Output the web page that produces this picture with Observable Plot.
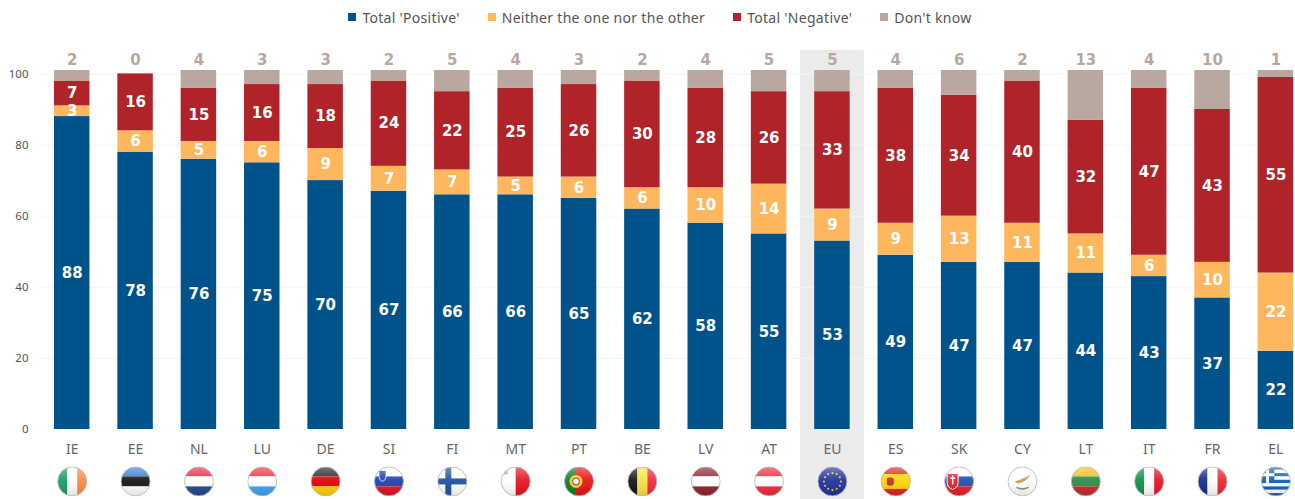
<!DOCTYPE html>
<html><head><meta charset="utf-8">
<script src="https://cdn.jsdelivr.net/npm/d3@7"></script>
<script src="https://cdn.jsdelivr.net/npm/@observablehq/plot@0.6"></script>
<style>
html,body{margin:0;padding:0;background:#fff;overflow:hidden}
#legend{height:36px;box-sizing:border-box;padding-left:25px;padding-bottom:2px;display:flex;justify-content:center;align-items:center;gap:28px;font:14px "Noto Sans",sans-serif;letter-spacing:.3px;color:#555}
#legend span.i{display:flex;align-items:center;gap:6px}
#legend i{width:8px;height:8px;display:block}
svg{display:block}
</style></head><body>
<div id="legend"></div><div id="chart"></div>
<script>
const countries=["IE","EE","NL","LU","DE","SI","FI","MT","PT","BE","LV","AT","EU","ES","SK","CY","LT","IT","FR","EL"];
const positive=[88,78,76,75,70,67,66,66,65,62,58,55,53,49,47,47,44,43,37,22];
const neither=[3,6,5,6,9,7,7,5,6,6,10,14,9,9,13,11,11,6,10,22];
const negative=[7,16,15,16,18,24,22,25,26,30,28,26,33,38,34,40,32,47,43,55];
const dontKnow=[2,0,4,3,3,2,5,4,3,2,4,5,5,4,6,2,13,4,10,1];
const seriesNames=["Total 'Positive'","Neither the one nor the other","Total 'Negative'","Don't know"];
const seriesColors=["#00538a","#ffb75d","#af2329","#b8a89f"];
const seriesValues=[positive,neither,negative,dontKnow];
const yTicks=[0,20,40,60,80,100];
const highlighted="EU";
const dontKnowTop=100.95;

const h=(a,b,c)=>`<rect width="30" height="10" fill="${a}"/><rect y="10" width="30" height="10" fill="${b}"/><rect y="20" width="30" height="10" fill="${c}"/>`;
const v=(a,b,c)=>`<rect width="10" height="30" fill="${a}"/><rect x="10" width="10" height="30" fill="${b}"/><rect x="20" width="10" height="30" fill="${c}"/>`;
const stars=Array.from({length:12},(_,i)=>{const t=i*Math.PI/6;return `<circle cx="${15+8.5*Math.sin(t)}" cy="${15-8.5*Math.cos(t)}" r="1" fill="#ffe000"/>`}).join("");
const greece=[0,1,2,3,4,5,6,7,8].map(i=>`<rect y="${i*30/9}" width="30" height="${30/9}" fill="${i%2?'#fff':'#0d5eaf'}"/>`).join("")+`<rect width="13.4" height="16.6" fill="#0d5eaf"/><rect x="5.2" width="3" height="16.6" fill="#fff"/><rect y="6.8" width="13.4" height="3" fill="#fff"/>`;
const flagArt={
IE:v("#169b62","#fff","#ff883e"),EE:h("#2f7fd0","#111","#fff"),NL:h("#e8274a","#fff","#21468b"),LU:h("#ee2e3c","#fff","#3aa3ee"),
DE:h("#222","#dd0000","#ffce00"),
SI:h("#fff","#1c3fae","#e01020")+`<path d="M5 4h7v6q0 4-3.500 5q-3.500-1-3.500-5z" fill="#1c3fae" stroke="#fff" stroke-width=".8"/>`,
FI:`<rect width="30" height="30" fill="#fff"/><rect x="8" width="6" height="30" fill="#1a4fa0"/><rect y="12" width="30" height="6" fill="#1a4fa0"/>`,
MT:`<rect width="15" height="30" fill="#fff"/><rect x="15" width="15" height="30" fill="#e81020"/><rect x="3" y="4" width="4" height="4" fill="#c9a0a0"/>`,
PT:`<rect width="12" height="30" fill="#0b7a2b"/><rect x="12" width="18" height="30" fill="#e81010"/><circle cx="12" cy="15" r="6.500" fill="#f2d21c"/><circle cx="12" cy="15" r="3.500" fill="#fff" stroke="#c01010"/>`,
BE:v("#111","#fae042","#ed2939"),LV:h("#8f2030","#fff","#8f2030"),AT:h("#ed2939","#fff","#ed2939"),
EU:`<rect width="30" height="30" fill="#1d2f9c"/>`+stars,
ES:`<rect width="30" height="30" fill="#e0201c"/><rect y="7.500" width="30" height="15" fill="#ffd400"/><rect x="6" y="11" width="7" height="8" rx="2" fill="#c03020"/>`,
SK:h("#fff","#1b4fb0","#ea1c24")+`<path d="M3 7h11v9q0 5-5.500 7q-5.500-2-5.500-7z" fill="#ea1c24" stroke="#fff"/><rect x="7.800" y="9" width="1.500" height="9" fill="#fff"/><rect x="6" y="11" width="5" height="1.500" fill="#fff"/>`,
CY:`<rect width="30" height="30" fill="#fff"/><path d="M7 15q5-1 8-3q4-1 8-4q-2 4-5 6q-5 3-8 3z" fill="#d39a50"/><path d="M9 21q6 3 12 0" fill="none" stroke="#6a9a60" stroke-width="1.500"/>`,
LT:h("#fdb913","#2a8a45","#c1272d"),IT:v("#0b9246","#fff","#e81020"),FR:v("#102a8a","#fff","#ee2030"),EL:greece};
const flagUri=c=>"data:image/svg+xml,"+encodeURIComponent(`<svg xmlns="http://www.w3.org/2000/svg" viewBox="0 0 30 30" width="30" height="30"><defs><clipPath id="c"><circle cx="15" cy="15" r="14.500"/></clipPath><linearGradient id="g" x1="0" y1="0" x2="0" y2="1"><stop offset="0" stop-color="#fff" stop-opacity=".4"/><stop offset=".45" stop-color="#fff" stop-opacity=".08"/><stop offset="1" stop-color="#000" stop-opacity=".12"/></linearGradient></defs><g clip-path="url(#c)">${flagArt[c]}<rect width="30" height="30" fill="url(#g)"/></g><circle cx="15" cy="15" r="14.500" fill="none" stroke="#bbb" stroke-width=".9"/></svg>`);

document.getElementById("legend").innerHTML=seriesNames.map((n,i)=>`<span class="i"><i style="background:${seriesColors[i]}"></i><span>${n}</span></span>`).join("");

const rows=seriesNames.slice(0,3).flatMap((s,j)=>countries.map((c,i)=>({country:c,series:s,value:seriesValues[j][i]})));
const font='"Noto Sans",sans-serif';
const bold='"DejaVu Sans",sans-serif';
const chart=Plot.plot({
 width:1295,height:463,marginTop:37.4,marginBottom:70,marginLeft:40,marginRight:0,
 style:{background:"#fff",fontFamily:font},
 x:{domain:countries,range:[26.1,1321],padding:.44,align:.5,round:false,label:null},
 y:{domain:[0,100],label:null},
 color:{domain:seriesNames,range:seriesColors},
 marks:[
  Plot.barY([highlighted],{x:d=>d,y1:()=>-19.7,y2:()=>106.6,fill:"#ebebeb",insetLeft:-14.25,insetRight:-14.25}),
  Plot.ruleY(yTicks.slice(1),{stroke:"#f4f4f4"}),
  Plot.axisY({ticks:yTicks,tickSize:0,tickPadding:12,fontSize:11.5,color:"#555",label:null}),
  Plot.axisX({tickSize:0,tickPadding:15,fontSize:14,color:"#666",label:null}),
  Plot.barY(rows,{x:"country",y:"value",z:"series",fill:"series"}),
  Plot.barY(countries.filter((c,i)=>dontKnow[i]>0),{x:d=>d,y1:d=>100-dontKnow[countries.indexOf(d)],y2:()=>dontKnowTop,fill:seriesColors[3]}),
  Plot.text(rows,Plot.stackY({x:"country",y:"value",z:"series",text:"value",fill:"#fff",fontFamily:bold,fontSize:15,fontWeight:700})),
  Plot.text(countries,{x:d=>d,y:()=>103.8,text:(d,i)=>dontKnow[i],fill:seriesColors[3],fontFamily:bold,fontSize:15,fontWeight:700}),
  Plot.image(countries,{x:d=>d,y:()=>-14.6,src:flagUri,width:30,height:30})
 ]
});
document.getElementById("chart").append(chart);
</script></body></html>
